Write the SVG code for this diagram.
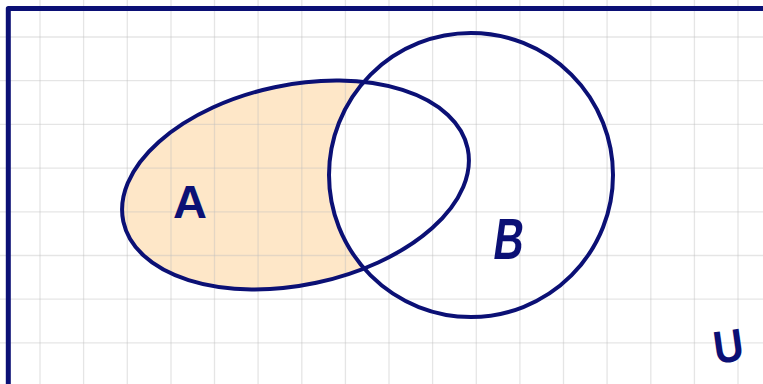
<svg xmlns="http://www.w3.org/2000/svg" width="763" height="384" viewBox="0 0 763 384">
<style>
.grid line{stroke:#bdbdbd;stroke-opacity:0.4;stroke-width:1.3}
.set{fill:none;stroke:#0b1075;stroke-width:4}
.lbl{font-family:"Liberation Sans",Arial,sans-serif;font-weight:bold;fill:#0b1075}
</style>
<defs>
<mask id="aOnly" maskUnits="userSpaceOnUse" x="0" y="0" width="763" height="384">
<rect x="0" y="0" width="763" height="384" fill="#fff"/>
<circle cx="471" cy="175" r="142" fill="#000"/>
</mask>
</defs>
<rect x="0" y="0" width="763" height="384" fill="#fff"/>
<g id="fill-a-only" mask="url(#aOnly)">
<ellipse cx="295.5" cy="185" rx="176" ry="100" transform="rotate(-12 295.5 185)" fill="#fddfb5" fill-opacity="0.75"/>
</g>
<g class="grid" id="grid">
<line x1="40" y1="0" x2="40" y2="384"/>
<line x1="83.6" y1="0" x2="83.6" y2="384"/>
<line x1="127.3" y1="0" x2="127.3" y2="384"/>
<line x1="171" y1="0" x2="171" y2="384"/>
<line x1="214.5" y1="0" x2="214.5" y2="384"/>
<line x1="258.1" y1="0" x2="258.1" y2="384"/>
<line x1="301.8" y1="0" x2="301.8" y2="384"/>
<line x1="345.4" y1="0" x2="345.4" y2="384"/>
<line x1="389" y1="0" x2="389" y2="384"/>
<line x1="432.6" y1="0" x2="432.6" y2="384"/>
<line x1="476.3" y1="0" x2="476.3" y2="384"/>
<line x1="519.9" y1="0" x2="519.9" y2="384"/>
<line x1="563.5" y1="0" x2="563.5" y2="384"/>
<line x1="607.1" y1="0" x2="607.1" y2="384"/>
<line x1="650.8" y1="0" x2="650.8" y2="384"/>
<line x1="694.4" y1="0" x2="694.4" y2="384"/>
<line x1="738" y1="0" x2="738" y2="384"/>
<line x1="0" y1="37" x2="763" y2="37"/>
<line x1="0" y1="80.7" x2="763" y2="80.7"/>
<line x1="0" y1="124.4" x2="763" y2="124.4"/>
<line x1="0" y1="168.1" x2="763" y2="168.1"/>
<line x1="0" y1="211.8" x2="763" y2="211.8"/>
<line x1="0" y1="255.5" x2="763" y2="255.5"/>
<line x1="0" y1="299.2" x2="763" y2="299.2"/>
<line x1="0" y1="342.9" x2="763" y2="342.9"/>
</g>
<g id="connectors"></g>
<g id="universe">
<path d="M8.3 384 V8.5 H763" fill="none" stroke="#0b1075" stroke-width="5" stroke-linejoin="round"/>
<text class="lbl" x="713" y="362" font-size="46" textLength="30" lengthAdjust="spacingAndGlyphs" transform="rotate(-8 728 343)">U</text>
</g>
<g id="set-a">
<ellipse class="set" cx="295.5" cy="185" rx="176" ry="100" transform="rotate(-12 295.5 185)"/>
<text class="lbl" x="173" y="218" font-size="47" textLength="34" lengthAdjust="spacingAndGlyphs">A</text>
</g>
<g id="set-b">
<circle class="set" cx="471" cy="175" r="142"/>
<text class="lbl" x="496" y="259" font-size="58" textLength="30" lengthAdjust="spacingAndGlyphs" transform="skewX(-8)" dx="32">B</text>
</g>
</svg>
